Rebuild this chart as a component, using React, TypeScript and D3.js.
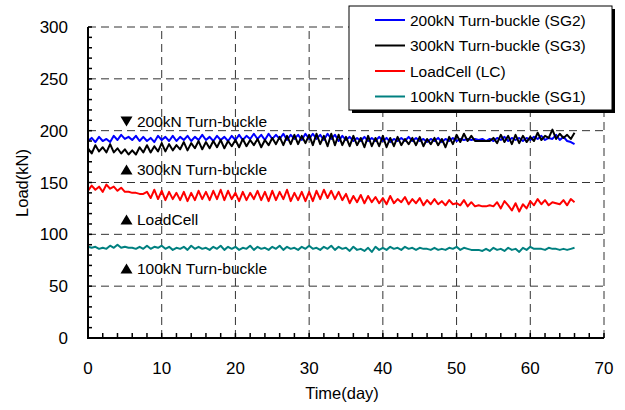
import React from "react";
import * as d3 from "d3";

// Sampling: every half day from day 0 to day 66
const days: number[] = d3.range(0, 133).map((i) => i * 0.5);

const sg2: number[] = [
  190,193,189,194,190,192,189,195,191,196,192,194,191,195,190,194,190,193,189,195,
  191,194,190,195,190,194,191,195,190,194,191,196,191,194,190,195,191,194,190,195,
  191,196,191,195,192,197,192,196,191,197,192,196,192,197,191,196,192,196,191,197,
  192,197,192,196,191,197,192,196,190,195,191,194,190,193,190,194,190,193,190,194,
  190,193,189,192,190,193,190,194,190,193,190,192,189,192,190,193,189,192,190,193,
  190,192,191,192,191,192,191,192,190,192,190,193,191,194,190,193,191,193,190,193,
  191,194,192,195,191,193,192,196,191,194,190,189,187,
];

const sg3: number[] = [
  183,178,186,180,184,179,187,179,183,178,182,177,181,177,184,179,186,179,185,180,
  188,180,187,181,186,182,189,181,188,183,190,182,189,183,190,184,191,183,190,185,
  191,184,192,185,191,186,192,184,191,186,193,187,194,186,195,187,196,187,195,188,
  196,186,197,187,195,185,197,186,196,186,194,185,195,186,193,184,195,185,193,185,
  195,184,193,185,194,186,192,187,193,186,194,185,192,187,193,186,192,184,194,187,
  196,189,197,190,195,190,190,190,190,190,193,188,196,189,195,187,196,188,195,189,
  194,190,198,191,195,193,201,192,197,193,196,192,198,
];

const lc: number[] = [
  142,147,143,146,141,148,144,146,142,145,141,141,140,140,139,139,141,135,143,134,
  142,133,141,134,140,133,141,132,140,133,142,134,141,133,142,134,143,133,142,134,
  140,132,141,133,140,134,142,133,141,132,142,133,141,134,143,132,140,133,141,132,
  141,132,142,134,143,135,142,134,141,133,139,130,137,131,138,130,137,131,136,130,
  135,129,137,130,134,131,136,129,134,130,135,128,133,129,134,129,132,128,133,129,
  130,128,133,127,131,127,128,127,127,128,127,131,125,132,128,123,130,122,129,125,
  132,128,134,129,133,128,131,130,129,133,128,134,131,
];

const sg1: number[] = [
  88,87,88,86,87,86,89,87,90,87,88,87,87,86,88,86,89,86,88,87,
  89,86,88,85,87,86,88,85,89,86,88,86,87,85,88,86,89,85,88,86,
  88,85,87,86,89,85,88,86,87,85,88,86,89,85,88,86,87,85,88,86,
  89,86,87,85,88,86,89,85,88,86,87,84,88,85,86,84,87,83,88,85,
  87,85,88,86,87,85,88,86,87,85,87,86,86,85,87,85,86,85,87,86,
  88,85,87,86,85,85,85,84,86,84,87,85,86,84,87,85,86,83,87,85,
  88,86,86,86,85,87,86,86,85,86,85,86,87,
];

const seriesNames = [
  "200kN Turn-buckle (SG2)",
  "300kN Turn-buckle (SG3)",
  "LoadCell (LC)",
  "100kN Turn-buckle (SG1)",
];
const seriesValues = [sg2, sg3, lc, sg1];
const seriesColors = ["#0000FF", "#000000", "#FF0000", "#008080"];
const drawOrder = [3, 2, 0, 1];

const xTicks = [0, 10, 20, 30, 40, 50, 60, 70];
const yTicks = [0, 50, 100, 150, 200, 250, 300];

const annotations = [
  { text: "200kN Turn-buckle", dir: "down", y: 127 },
  { text: "300kN Turn-buckle", dir: "up", y: 175 },
  { text: "LoadCell", dir: "up", y: 225 },
  { text: "100kN Turn-buckle", dir: "up", y: 274 },
];

const FONT = "'Liberation Sans', Arial, sans-serif";

export default function App() {
  const W = 625, H = 410;
  const x = d3.scaleLinear().domain([0, 70]).range([88, 604]);
  const y = d3.scaleLinear().domain([0, 300]).range([338, 27]);
  const line = d3
    .line<number>()
    .x((_, i) => x(days[i]))
    .y((d) => y(d));

  const xMinor = d3.range(0, 71, 2);
  const yMinor = d3.range(0, 301, 10);

  const legX = 349, legY = 6, legW = 263, legH = 104;
  const legRows = [20, 45.5, 71, 96.5];

  return (
    <svg
      width={W}
      height={H}
      style={{ position: "absolute", left: 0, top: 0, background: "#fff" }}
      fontFamily={FONT}
    >
      <rect x={0} y={0} width={W} height={H} fill="#fff" />
      {/* grid */}
      {xTicks.filter((t) => t > 0).map((t) => (
        <line key={"gx" + t} x1={x(t)} x2={x(t)} y1={y(0)} y2={y(300)}
          stroke="#333" strokeWidth={1} strokeDasharray="8,5" />
      ))}
      {yTicks.filter((t) => t > 0).map((t) => (
        <line key={"gy" + t} x1={x(0)} x2={x(70)} y1={y(t)} y2={y(t)}
          stroke="#333" strokeWidth={1} strokeDasharray="8,5" />
      ))}
      {/* series */}
      {drawOrder.map((k) => (
        <path key={"s" + k} d={line(seriesValues[k]) || ""} fill="none"
          stroke={seriesColors[k]} strokeWidth={2} strokeLinejoin="round" />
      ))}
      {/* axes */}
      <line x1={x(0)} x2={x(0)} y1={y(0) + 1} y2={y(300)} stroke="#000" strokeWidth={2} />
      <line x1={x(0) - 1} x2={x(70)} y1={y(0)} y2={y(0)} stroke="#000" strokeWidth={2} />
      {yMinor.map((t) => (
        <line key={"ty" + t} x1={x(0)} x2={x(0) + 4} y1={y(t)} y2={y(t)} stroke="#000" strokeWidth={1.5} />
      ))}
      {xMinor.map((t) => (
        <line key={"tx" + t} x1={x(t)} x2={x(t)} y1={y(0)} y2={y(0) - 5} stroke="#000" strokeWidth={1.5} />
      ))}
      {/* tick labels */}
      {yTicks.map((t) => (
        <text key={"ly" + t} x={68} y={y(t) + 6} textAnchor="end" fontSize={17} fill="#000">{t}</text>
      ))}
      {xTicks.map((t) => (
        <text key={"lx" + t} x={x(t)} y={374} textAnchor="middle" fontSize={17} fill="#000">{t}</text>
      ))}
      <text x={342} y={399} textAnchor="middle" fontSize={16.5} fill="#000">Time(day)</text>
      <text transform="translate(28,183) rotate(-90)" textAnchor="middle" fontSize={16.5} fill="#000">Load(kN)</text>
      {/* annotations */}
      {annotations.map((a, i) => {
        const cy = a.y - 5.5;
        const tri = a.dir === "down"
          ? `M120.5,${cy - 5} L132.5,${cy - 5} L126.5,${cy + 5} Z`
          : `M120.5,${cy + 5} L132.5,${cy + 5} L126.5,${cy - 5} Z`;
        return (
          <g key={"an" + i}>
            <path d={tri} fill="#000" />
            <text x={137} y={a.y} fontSize={15.5} fill="#000">{a.text}</text>
          </g>
        );
      })}
      {/* legend */}
      <rect x={legX + 3} y={legY + 3} width={legW} height={legH} fill="#000" />
      <rect x={legX} y={legY} width={legW} height={legH} fill="#fff" stroke="#000" strokeWidth={1} />
      {seriesNames.map((n, i) => (
        <g key={"lg" + i}>
          <line x1={375} x2={405} y1={legRows[i]} y2={legRows[i]} stroke={seriesColors[i]} strokeWidth={2} />
          <text x={410} y={legRows[i] + 5.5} fontSize={15.5} fill="#000">{n}</text>
        </g>
      ))}
    </svg>
  );
}
